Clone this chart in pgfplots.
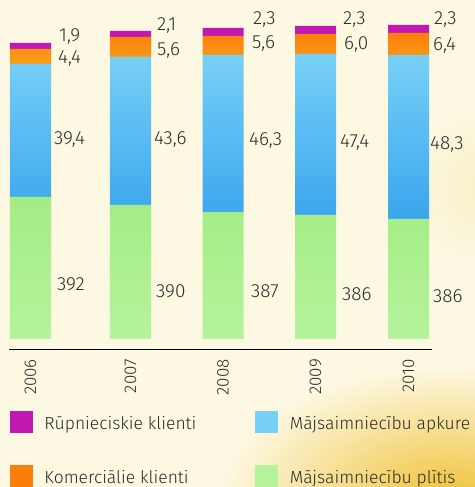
\documentclass[border=0pt]{standalone}
\usepackage{pgfplots}
\pgfplotsset{compat=1.18}
\usepackage{pgfplotstable}
\usepackage{fontspec}
\setmainfont{Fira Sans Light}

\definecolor{bg}{HTML}{FCF8E2}
\definecolor{yel}{HTML}{F1C23A}
\definecolor{yel2}{HTML}{F9F0C8}
\definecolor{magA}{HTML}{C218B2}
\definecolor{orgT}{HTML}{FB7E0A}
\definecolor{orgB}{HTML}{F8A01C}
\definecolor{bluT}{HTML}{78D0F6}
\definecolor{bluB}{HTML}{3AA6EE}
\definecolor{grnT}{HTML}{A4EC84}
\definecolor{grnB}{HTML}{B5F39C}
\definecolor{txt}{HTML}{2B2B2B}

% x: bar centre; hg hb ho hm: drawn segment heights; vg vb vo vm: printed values
% lx*/ly*: label positions
\pgfplotstableread{
x     hg  hb  ho hm vg  vb   vo  vm  lxg lxb lxo lxm yg yb  yo  ym  year
30.5  142 133 15 6  392 39,4 4,4 1,9 57  54  58  59  56 202 283 304 2006
130.5 134 148 20 6  390 43,6 5,6 2,1 156 154 157 157 49 202 291 315 2007
223   127 157 19 8  387 46,3 5,6 2,3 251 249 252 253 49 201 298 321 2008
315.5 124 161 20 8  386 47,4 6,0 2,3 342 340 344 343 46 199 297 321 2009
408.5 120 164 22 8  386 48,3 6,4 2,3 433 430 433 434 44 197 296 321 2010
}\data

\pgfplotsset{common/.style={x=1bp,y=1bp,xmin=0,xmax=475,ymin=-148,ymax=339,
  anchor=south west,at={(0,0)},hide axis,clip=false}}
\pgfplotsset{lbl/.style={forget plot,sharp plot,draw=none,mark=none,
  nodes near coords,point meta=explicit symbolic,
  nodes near coords align={anchor=base west},
  every node near coord/.append style={anchor=base west,inner sep=0pt,yshift=-7bp,
    text=txt,font=\fontsize{19bp}{22bp}\selectfont}}}

\begin{document}
\begin{tikzpicture}
\fill[bg] (0,0) rectangle (475bp,487bp);
\begin{scope}
\clip (0,0) rectangle (475bp,487bp);
\shade[inner color=yel2, outer color=bg] (480bp,300bp) circle (80bp);
\shade[inner color=yel, outer color=bg] (450bp,-10bp) ellipse (230bp and 130bp);
\end{scope}

\begin{axis}[common, ybar stacked, bar width=41bp]
\addplot[forget plot, draw=none, top color=grnT, bottom color=grnB] table[x=x,y=hg]{\data};
\addplot[forget plot, draw=none, top color=bluT, bottom color=bluB] table[x=x,y=hb]{\data};
\addplot[forget plot, draw=none, top color=orgT, bottom color=orgB] table[x=x,y=ho]{\data};
\addplot[forget plot, draw=none, fill=magA] table[x=x,y=hm]{\data};
\end{axis}

% year axis (line + tick labels)
\begin{axis}[x=1bp, y=1bp, xmin=9, xmax=432, ymin=0, ymax=1,
  anchor=south west, at={(9bp,138bp)},
  axis x line*=bottom, axis y line=none,
  x axis line style={line width=0.9bp, black},
  xtick={30.5,130.5,223,315.5,408.5},
  xticklabels={2006,2007,2008,2009,2010},
  major tick length=0pt,
  xticklabel shift=10bp,
  xticklabel style={rotate=90, anchor=east, inner sep=0pt, text=txt,
    font=\fontsize{17bp}{20bp}\selectfont}]
\addplot[draw=none, mark=none, forget plot] coordinates {(30.5,0) (408.5,0)};
\end{axis}

\begin{axis}[common,
  legend columns=2,
  legend cell align=left,
  legend style={at={(axis cs:10,-72)}, anchor=north west, draw=none, fill=none,
    inner sep=0pt, outer sep=0pt, row sep=33bp, text=txt,
    font=\fontsize{17.5bp}{21bp}\selectfont, nodes={inner sep=0pt},
    /tikz/every odd column/.append style={column sep=12bp}}]
\addplot[lbl] table[x=lxg,y=yg,meta=vg]{\data};
\addplot[lbl] table[x=lxb,y=yb,meta=vb]{\data};
\addplot[lbl] table[x=lxo,y=yo,meta=vo]{\data};
\addplot[lbl] table[x=lxm,y=ym,meta=vm]{\data};

\addlegendimage{legend image code/.code={\fill[magA] (0bp,-9bp) rectangle (22bp,12bp);}}
\addlegendentry{\makebox[211bp][l]{Rūpnieciskie klienti}}
\addlegendimage{legend image code/.code={\fill[bluT] (0bp,-9bp) rectangle (22bp,12bp);}}
\addlegendentry{Mājsaimniecību apkure}
\addlegendimage{legend image code/.code={\fill[orgT] (0bp,-9bp) rectangle (22bp,12bp);}}
\addlegendentry{\makebox[211bp][l]{Komerciālie klienti}}
\addlegendimage{legend image code/.code={\fill[grnB] (0bp,-9bp) rectangle (22bp,12bp);}}
\addlegendentry{Mājsaimniecību plītis}
\end{axis}
\pgfresetboundingbox
\path (0,0) rectangle (475bp,487bp);
\end{tikzpicture}
\end{document}
